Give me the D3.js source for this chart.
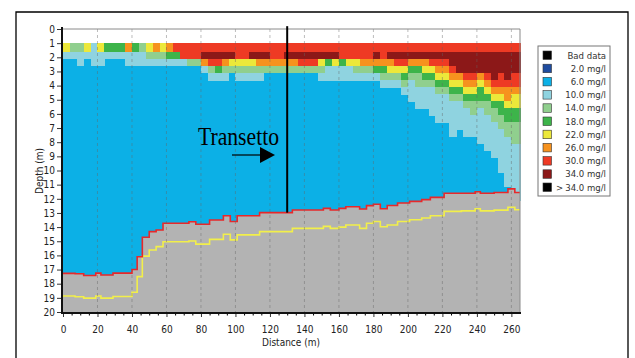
<!DOCTYPE html>
<html><head><meta charset="utf-8">
<script src="https://cdn.jsdelivr.net/npm/d3@7"></script>
<style>body{margin:0;background:#fff}svg{display:block}</style>
</head><body><svg id="c" width="635" height="358"></svg>
<script>
// ---------------- DATA ----------------
const legendLabels = ["Bad data","2.0 mg/l","6.0 mg/l","10.0 mg/l","14.0 mg/l","18.0 mg/l","22.0 mg/l","26.0 mg/l","30.0 mg/l","34.0 mg/l","34.0 mg/l"];
const legendColors = ["#000000","#1f4c9f","#0cb0e6","#8fd3e0","#90cf8e","#3db44a","#ece83a","#f6921e","#ee3a24","#8c1818","#000000"];
const classCodes = ["B","c","l","g","y","o","r","d"];
const classColors = ["#0cb0e6","#8fd3e0","#90cf8e","#3db44a","#ece83a","#f6921e","#ee3a24","#8c1818"];
const cellWidth = 4; // sampling interval along the transect (m)
// depth edges (m) of the gridded rows
const rowEdges = [1.0,1.6,2.1,2.6,3.1,3.6,4.1,4.6,5.1,5.6,6.1,6.6,7.1,7.6,8.1,8.6,9.1,9.6,10.1,10.6,11.1,11.6,12.1];
// one string per column, one code per row from the top (missing rows = 6.0 mg/l)
const columns = [
 "yc","lc","lcc","yc","ccc","ycc","gc","gc","gc","occ",
 "gcc","lcc","ylc","olc","ylc","ogc","rgc","rrc","rrl","rrl",
 "rdoc","rdrlc","rdrgc","rdolc","rdyl","rrylc","rrylc","rdylc","rdolc","rdol",
 "rrol","rrol","rdol","rdol","rdrl","rdrl","rdrl","rdylc","rdgcc","rdycc",
 "rrgcc","rrycc","rrylc","rrolc","rrolc","rdogc","rroglc","rdoylc","rdrylc","rdryglc",
 "rdoglccc","rdogllccc","rdoyglccc","rdryglcccc","rdroyglcccc","rdroyglcccc","rddroyglccccc","rdddoyglcccc","rdddroyglcccc","rdddroygllccc",
 "rdddoygglccccc","rdddroygllccccc","rddddroygllccccc","rdddrroyggllcccccc","rddddrooyggllccccccc","rdddrroyygglllcccccccc"
];
const bottomDist = [0,7,12,19,22,29,40,43,46,50,54,58,73,77,85,93,97,101,114,126,133,151,155,160,164,172,176,180,184,188,194,201,208,213,221,231,239,242,250,258,262,265];
const bottomDepth = [17.27,17.3,17.42,17.25,17.38,17.25,17.0,16.1,14.72,14.32,14.2,13.73,13.62,13.8,13.5,13.2,13.6,13.2,12.98,12.98,12.79,12.68,12.79,12.68,12.56,12.72,12.48,12.38,12.7,12.47,12.3,12.18,12.06,11.9,11.61,11.61,11.5,11.61,11.55,11.3,11.55,11.55];
const secondDepth = [18.87,18.92,19.02,18.87,19.02,18.9,18.6,17.5,16.05,15.62,15.38,15.03,14.98,15.2,14.87,14.5,14.9,14.55,14.32,14.32,14.09,13.95,14.09,14.0,13.85,14.09,13.73,13.6,13.97,13.85,13.6,13.48,13.36,13.2,12.89,12.85,12.7,12.85,12.8,12.6,12.77,12.77];
const xTicks = [0,20,40,60,80,100,120,140,160,180,200,220,240,260];
const yTicks = d3.range(0,21);
const transectDist = 130;

// ---------------- CHART ----------------
const svg = d3.select("#c");
const x = d3.scaleLinear().domain([0,265]).range([63,520]);
const y = d3.scaleLinear().domain([0,20]).range([29,312]);
const colorOf = d3.scaleOrdinal().domain(classCodes).range(classColors);
const font = "'Liberation Sans Narrow','Arial Narrow','DejaVu Sans Condensed',sans-serif";

// outer frame
svg.append("path").attr("d","M16,358V12H628V358").attr("fill","none").attr("stroke","#000").attr("stroke-width",1.3);

// water background
svg.append("rect").attr("x",x(0)).attr("y",y(1)).attr("width",x(265)-x(0)).attr("height",y(20)-y(1)).attr("fill",colorOf("B"));

// cells
const cells = [];
columns.forEach((s,i)=>{
  const d0 = i*cellWidth, d1 = Math.min(265,(i+1)*cellWidth + (i===columns.length-1?1:0));
  s.split("").forEach((code,r)=>{
    if(code!=="B") cells.push({d0,d1,z0:rowEdges[r],z1:rowEdges[r+1],code});
  });
});
svg.append("g").attr("shape-rendering","crispEdges").selectAll("rect").data(cells).join("rect")
  .attr("x",d=>x(d.d0)).attr("y",d=>y(d.z0))
  .attr("width",d=>x(d.d1)-x(d.d0)+0.6).attr("height",d=>y(d.z1)-y(d.z0)+0.6)
  .attr("fill",d=>colorOf(d.code));

// bottom (gray)
const pts = bottomDist.map((d,i)=>({d,b:bottomDepth[i],s:secondDepth[i]}));
svg.append("path").datum(pts)
  .attr("d",d3.area().curve(d3.curveStepAfter).x(p=>x(p.d)).y0(y(20)).y1(p=>y(p.b)))
  .attr("fill","#b3b3b3");
svg.append("path").datum(pts)
  .attr("d",d3.line().curve(d3.curveStepAfter).x(p=>x(p.d)).y(p=>y(p.s)))
  .attr("fill","none").attr("stroke","#f2ef4a").attr("stroke-width",1.6);
svg.append("path").datum(pts)
  .attr("d",d3.line().curve(d3.curveStepAfter).x(p=>x(p.d)).y(p=>y(p.b)))
  .attr("fill","none").attr("stroke","#e8282a").attr("stroke-width",1.6);

// grid
svg.append("g").selectAll("line").data(xTicks.slice(1)).join("line")
  .attr("x1",d=>x(d)).attr("x2",d=>x(d)).attr("y1",y(0)).attr("y2",y(20))
  .attr("stroke","#666").attr("stroke-opacity",0.55).attr("stroke-width",0.8).attr("stroke-dasharray","3,3");

// plot border top/right
svg.append("path").attr("d",`M${x(0)},${y(0)}H${x(265)}V${y(20)}`).attr("fill","none").attr("stroke","#8a8a8a").attr("stroke-width",1);

// axes
const gx = svg.append("g").attr("transform",`translate(0,${y(20)+1})`)
  .call(d3.axisBottom(x).tickValues(xTicks).tickSize(4).tickPadding(9).tickFormat(d3.format("d")));
svg.append("g").attr("transform",`translate(0,${y(20)+1})`)
  .call(d3.axisBottom(x).tickValues(d3.range(5,265,5).filter(v=>v%20)).tickSize(2.5).tickFormat(""))
  .call(g=>g.select(".domain").remove());
const gy = svg.append("g").attr("transform",`translate(${x(0)-1},0)`)
  .call(d3.axisLeft(y).tickValues(yTicks).tickSize(5).tickPadding(2).tickFormat(d3.format("d")));
[gx,gy].forEach(g=>{
  g.select(".domain").remove();
  g.selectAll("text").attr("font-family",font).attr("font-size",10).attr("fill","#222");
  g.selectAll("line").attr("stroke","#333");
});
svg.append("path").attr("d",`M${x(0)-1},${y(0)-2}V${y(20)+1}H${x(265)+1}`).attr("fill","none").attr("stroke","#111").attr("stroke-width",2);

// axis titles
svg.append("text").attr("x",291).attr("y",346).attr("text-anchor","middle")
  .attr("font-family",font).attr("font-size",10).attr("fill","#222").text("Distance (m)");
svg.append("text").attr("transform","translate(43,171) rotate(-90)").attr("text-anchor","middle")
  .attr("font-family",font).attr("font-size",10).attr("fill","#222").text("Depth (m)");

// transect line
const bAt = bottomDepth[d3.bisectRight(bottomDist,transectDist)-1];
svg.append("line").attr("x1",x(transectDist)).attr("x2",x(transectDist)).attr("y1",y(-0.2)).attr("y2",y(bAt))
  .attr("stroke","#000").attr("stroke-width",2);
svg.append("text").attr("x",198).attr("y",145).attr("font-family","'Liberation Serif','Times New Roman',serif")
  .attr("font-size",25).attr("textLength",81).attr("lengthAdjust","spacingAndGlyphs").attr("fill","#000").text("Transetto");
svg.append("line").attr("x1",232).attr("x2",262).attr("y1",155).attr("y2",155).attr("stroke","#000").attr("stroke-width",1.2);
svg.append("path").attr("d","M260,147L275,155L260,163Z").attr("fill","#000");

// legend
const lg = svg.append("g");
lg.append("rect").attr("x",538).attr("y",46).attr("width",72).attr("height",150).attr("fill","#fff").attr("stroke","#777").attr("stroke-width",1);
const items = lg.selectAll("g").data(legendLabels).join("g").attr("transform",(d,i)=>`translate(0,${55+i*13.2})`);
items.append("rect").attr("x",543).attr("y",-4).attr("width",8.5).attr("height",8.5)
  .attr("fill",(d,i)=>legendColors[i]).attr("stroke","#333").attr("stroke-width",0.6);
items.append("text").attr("x",606).attr("y",3.5).attr("text-anchor","end")
  .attr("font-family",font).attr("font-size",9.5).attr("fill","#333").text(d=>d);
items.filter((d,i)=>i===legendLabels.length-1).append("text").attr("x",556).attr("y",3.5)
  .attr("font-family",font).attr("font-size",9.5).attr("fill","#333").text(">");
</script></body></html>
